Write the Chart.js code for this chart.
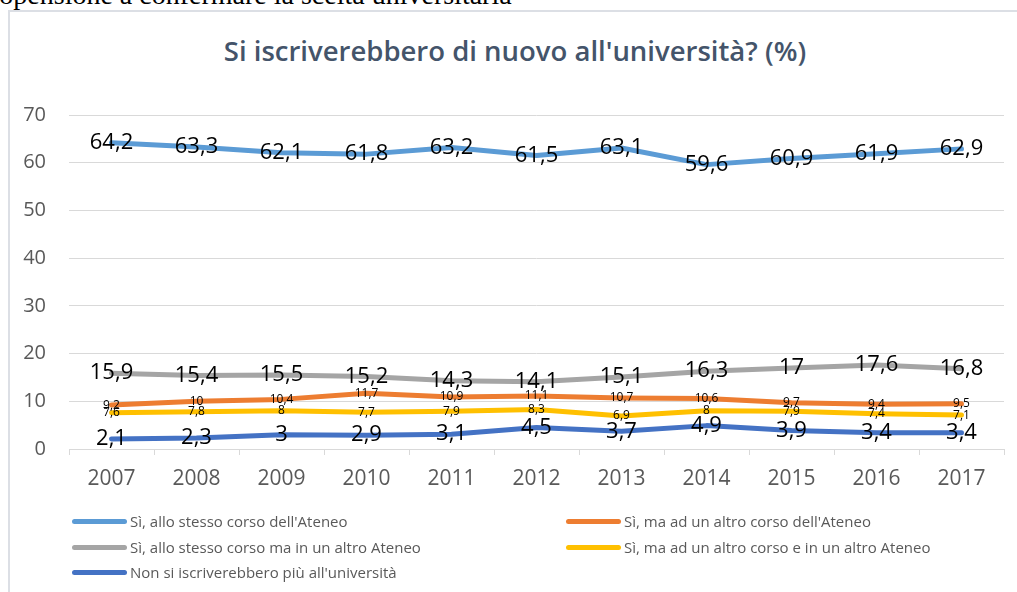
<!DOCTYPE html>
<html>
<head>
<meta charset="utf-8">
<script src="https://cdn.jsdelivr.net/npm/chart.js@4"></script>
<style>
  body { margin: 0; width: 1017px; height: 592px; overflow: hidden; background: #fff; position: relative; }
  #top-text { position: absolute; left: -24px; top: -19px; font: 28px/28px "Liberation Serif", serif; color: #000; white-space: nowrap; }
  #box { position: absolute; left: 8px; top: 10px; width: 1020px; height: 600px; border: 2px solid #dcdfe5; box-sizing: border-box; }
  #title { position: absolute; left: 0; width: 1030px; top: 32px; text-align: center; font: 600 27.5px "Open Sans", sans-serif; color: #44546a; }
  #chart { position: absolute; left: 0; top: 0; }
  .leg { position: absolute; font: 15px "Open Sans", sans-serif; color: #595959; white-space: nowrap; }
  .leg span { display: inline-block; width: 55px; height: 5px; border-radius: 3px; vertical-align: middle; margin-right: 3px; position: relative; top: -1px; }
</style>
</head>
<body>
<div id="top-text">propensione a confermare la scelta universitaria</div>
<div id="box"></div>
<div id="title">Si iscriverebbero di nuovo all'università? (%)</div>
<canvas id="chart" width="1017" height="592"></canvas>
<div id="legend"></div>
<script>
var anni = ['2007', '2008', '2009', '2010', '2011', '2012', '2013', '2014', '2015', '2016', '2017'];

var stessoCorso = [64.2, 63.3, 62.1, 61.8, 63.2, 61.5, 63.1, 59.6, 60.9, 61.9, 62.9];
var altroCorsoAteneo = [9.2, 10, 10.4, 11.7, 10.9, 11.1, 10.7, 10.6, 9.7, 9.4, 9.5];
var stessoCorsoAltroAteneo = [15.9, 15.4, 15.5, 15.2, 14.3, 14.1, 15.1, 16.3, 17, 17.6, 16.8];
var altroCorsoAltroAteneo = [7.6, 7.8, 8, 7.7, 7.9, 8.3, 6.9, 8, 7.9, 7.4, 7.1];
var nonIscritti = [2.1, 2.3, 3, 2.9, 3.1, 4.5, 3.7, 4.9, 3.9, 3.4, 3.4];

var nomi = [
  "Sì, allo stesso corso dell'Ateneo",
  "Sì, ma ad un altro corso dell'Ateneo",
  "Sì, allo stesso corso ma in un altro Ateneo",
  "Sì, ma ad un altro corso e in un altro Ateneo",
  "Non si iscriverebbero più all'università"
];
var colori = ['#5b9bd5', '#ed7d31', '#a5a5a5', '#ffc000', '#4472c4'];
var serie = [stessoCorso, altroCorsoAteneo, stessoCorsoAltroAteneo, altroCorsoAltroAteneo, nonIscritti];
var etichettaGrande = [true, false, true, false, true];

// etichette dei valori, centrate sul punto
var etichette = {
  id: 'etichette',
  afterDatasetsDraw: function (chart) {
    var ctx = chart.ctx;
    ctx.save();
    ctx.textAlign = 'center';
    ctx.textBaseline = 'middle';
    ctx.fillStyle = '#000';
    chart.data.datasets.forEach(function (ds, i) {
      var meta = chart.getDatasetMeta(i);
      ctx.font = etichettaGrande[i] ? '22px "Open Sans"' : '12px "Open Sans"';
      meta.data.forEach(function (p, j) {
        ctx.fillText(String(ds.data[j]).replace('.', ','), p.x, p.y);
      });
    });
    ctx.restore();
  }
};

var datasets = serie.map(function (d, i) {
  return {
    label: nomi[i],
    data: d,
    borderColor: colori[i],
    backgroundColor: colori[i],
    borderWidth: 5,
    pointRadius: 0,
    tension: 0,
    borderJoinStyle: 'round',
    borderCapStyle: 'round'
  };
});

new Chart(document.getElementById('chart'), {
  type: 'line',
  data: { labels: anni, datasets: datasets },
  options: {
    responsive: false,
    animation: false,
    layout: { padding: { left: 0, right: 13, top: 115, bottom: 93 } },
    plugins: { legend: { display: false }, title: { display: false }, tooltip: { enabled: false } },
    scales: {
      x: {
        offset: true,
        grid: { offset: true, drawOnChartArea: false, drawTicks: true, tickLength: 6, color: '#d9d9d9' },
        border: { color: '#d9d9d9' },
        ticks: { padding: 11, color: '#595959', font: { family: 'Open Sans', size: 21 } },
        afterFit: function (s) { s.height = 50; }
      },
      y: {
        min: 0, max: 70,
        ticks: { stepSize: 10, padding: 23, color: '#595959', font: { family: 'Open Sans', size: 20 } },
        grid: { color: '#d9d9d9', drawTicks: false },
        border: { display: false },
        afterFit: function (s) { s.width = 69; }
      }
    }
  },
  plugins: [etichette]
});

// legenda a due colonne
var posLeg = [[72, 511], [566, 511], [72, 537], [566, 537], [72, 562]];
var leg = document.getElementById('legend');
nomi.forEach(function (n, i) {
  var el = document.createElement('div');
  el.className = 'leg';
  el.style.left = posLeg[i][0] + 'px';
  el.style.top = posLeg[i][1] + 'px';
  el.innerHTML = '<span style="background:' + colori[i] + '"></span>' + n;
  leg.appendChild(el);
});
</script>
</body>
</html>
